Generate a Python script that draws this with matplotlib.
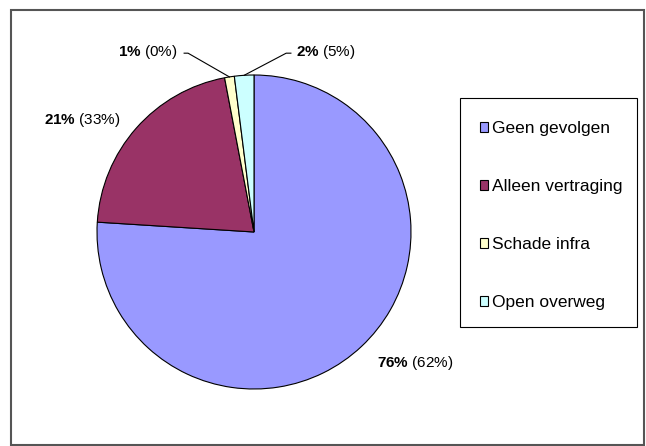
import numpy as np
import matplotlib.pyplot as plt
from matplotlib.patches import Rectangle, Patch

plt.rcParams['font.family'] = ['Liberation Sans', 'DejaVu Sans']
plt.rcParams['mathtext.fontset'] = 'custom'
plt.rcParams['mathtext.rm'] = 'Liberation Sans'
plt.rcParams['mathtext.bf'] = 'Liberation Sans:bold'

# gegevens
categories = ["Geen gevolgen", "Alleen vertraging", "Schade infra", "Open overweg"]
shares = [76, 21, 1, 2]
previous = [62, 33, 0, 5]
colors = ["#9999FF", "#993366", "#FFFFCC", "#CCFFFF"]

# label positions (pie radius units), and elbow of leader line (None = no line)
label_pos = [(1.025, -0.834), (-1.096, 0.713), (-0.675, 1.146), (0.459, 1.146)]
elbows = [None, None, (-0.42, 1.139), (0.205, 1.139)]
line_starts = [None, None, (-0.445, 1.139), (0.235, 1.139)]

W, H = 646, 446
fig = plt.figure(figsize=(W / 100, H / 100), dpi=100)

# outer frame
fig.patches.append(Rectangle((11 / W, 1 / H), 633 / W, 435 / H, transform=fig.transFigure,
                             fill=False, edgecolor="#555555", linewidth=1.5))

cx, cy, r = 254, 446 - 232, 157
ax = fig.add_axes([(cx - r) / W, (cy - r) / H, 2 * r / W, 2 * r / H])
wedges, _ = ax.pie(shares, colors=colors, startangle=90, counterclock=False, radius=1,
                   wedgeprops=dict(edgecolor="black", linewidth=0.8))
ax.set_xlim(-1, 1)
ax.set_ylim(-1, 1)
ax.set_aspect("equal")
ax.axis("off")

for i, w in enumerate(wedges):
    x, y = label_pos[i]
    ax.text(x, y, r"$\bf{%d\%%}$ (%d%%)" % (shares[i], previous[i]),
            ha="center", va="center", fontsize=11, clip_on=False)
    if elbows[i] is not None:
        mid = np.deg2rad((w.theta1 + w.theta2) / 2)
        ex, ey = np.cos(mid), np.sin(mid)
        sx, sy = line_starts[i]
        bx, by = elbows[i]
        ax.plot([sx, bx, ex], [sy, by, ey], color="black", linewidth=0.8, clip_on=False)

# legend box
fig.patches.append(Rectangle((460 / W, 1 - 327 / H), 177 / W, 229 / H, transform=fig.transFigure,
                             fill=False, edgecolor="black", linewidth=0.8))
handles = [Patch(facecolor=c, edgecolor="black", linewidth=0.8) for c in colors]
leg = fig.legend(handles, categories, loc="upper left", bbox_to_anchor=(480 / W, 1 - 121 / H),
                 fontsize=12.5, frameon=False, borderpad=0,
                 labelspacing=2.48, handlelength=0.46, handleheight=0.46, handletextpad=0.25,
                 borderaxespad=0)

fig.savefig("out.png", dpi=100)
